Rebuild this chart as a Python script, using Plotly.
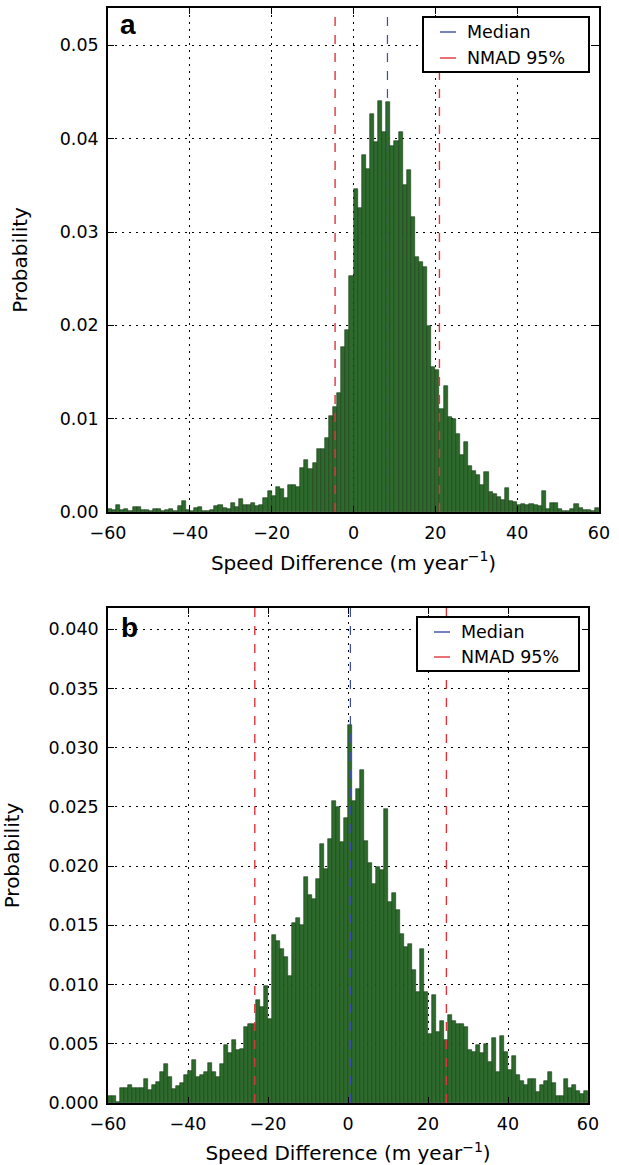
import plotly.graph_objects as go

# ---------------- data ----------------
bin_left_edges = list(range(-60, 60))   # histogram bins of width 1 (m/yr)
bin_width = 1.0

prob_a = [
    0.0003, 0.0002, 0.0007, 0.0002, 0.0003, 0.0001, 0.0005, 0.0005, 0.0002, 0.0002,
    0.0001, 0.0003, 0.0003, 0.0001, 0.0002, 0.0003, 0.0001, 0.0006, 0.0012, 0.0002,
    0.0001, 0.0004, 0.0005, 0.0001, 0.0001, 0.0002, 0.0006, 0.0008, 0.0004, 0.0003,
    0.0010, 0.0005, 0.0014, 0.0008, 0.0008, 0.0010, 0.0006, 0.0008, 0.0015, 0.0023,
    0.0017, 0.0027, 0.0025, 0.0015, 0.0029, 0.0029, 0.0027, 0.0047, 0.0056, 0.0046,
    0.0053, 0.0068, 0.0067, 0.0079, 0.0103, 0.0112, 0.0127, 0.0177, 0.0195, 0.0253,
    0.0346, 0.0326, 0.0383, 0.0367, 0.0426, 0.0396, 0.0440, 0.0407, 0.0439, 0.0392,
    0.0398, 0.0407, 0.0350, 0.0366, 0.0316, 0.0273, 0.0268, 0.0263, 0.0199, 0.0155,
    0.0152, 0.0110, 0.0135, 0.0102, 0.0100, 0.0084, 0.0061, 0.0075, 0.0049, 0.0044,
    0.0040, 0.0029, 0.0043, 0.0021, 0.0019, 0.0016, 0.0013, 0.0026, 0.0012, 0.0011,
    0.0008, 0.0009, 0.0008, 0.0009, 0.0008, 0.0006, 0.0023, 0.0003, 0.0010, 0.0010,
    0.0003, 0.0001, 0.0001, 0.0003, 0.0009, 0.0004, 0.0002, 0.0002, 0.0001, 0.0004,
]

prob_b = [
    0.0006, 0.0006, 0.0001, 0.0013, 0.0013, 0.0015, 0.0013, 0.0013, 0.0013, 0.0020,
    0.0011, 0.0015, 0.0018, 0.0026, 0.0033, 0.0022, 0.0012, 0.0014, 0.0017, 0.0024,
    0.0027, 0.0036, 0.0022, 0.0024, 0.0026, 0.0034, 0.0026, 0.0022, 0.0033, 0.0049,
    0.0042, 0.0053, 0.0045, 0.0046, 0.0064, 0.0067, 0.0067, 0.0087, 0.0081, 0.0099,
    0.0071, 0.0142, 0.0137, 0.0130, 0.0123, 0.0107, 0.0152, 0.0156, 0.0150, 0.0191,
    0.0176, 0.0172, 0.0189, 0.0219, 0.0198, 0.0223, 0.0255, 0.0250, 0.0220, 0.0241,
    0.0319, 0.0255, 0.0265, 0.0281, 0.0221, 0.0203, 0.0185, 0.0199, 0.0197, 0.0248,
    0.0170, 0.0177, 0.0163, 0.0143, 0.0132, 0.0134, 0.0112, 0.0094, 0.0130, 0.0094,
    0.0058, 0.0091, 0.0060, 0.0069, 0.0053, 0.0074, 0.0069, 0.0067, 0.0067, 0.0064,
    0.0045, 0.0043, 0.0049, 0.0042, 0.0050, 0.0035, 0.0055, 0.0026, 0.0057, 0.0043,
    0.0028, 0.0040, 0.0024, 0.0019, 0.0015, 0.0020, 0.0020, 0.0009, 0.0015, 0.0019,
    0.0026, 0.0017, 0.0006, 0.0006, 0.0020, 0.0013, 0.0015, 0.0010, 0.0008, 0.0010,
]

median_a = 8.3
nmad_a = [-4.5, 21.0]
median_b = 0.6
nmad_b = [-23.3, 24.6]

x_ticks = [-60, -40, -20, 0, 20, 40, 60]
y_ticks_a = [0.00, 0.01, 0.02, 0.03, 0.04, 0.05]
y_ticks_b = [0.000, 0.005, 0.010, 0.015, 0.020, 0.025, 0.030, 0.035, 0.040]

legend_labels = ["Median", "NMAD 95%"]
panel_labels = ["a", "b"]
x_title = "Speed Difference (m year<sup>\u22121</sup>)"
y_title = "Probability"

# ---------------- style ----------------
W, H = 619, 1165
FONT = "DejaVu Sans"
FS = 17.5
FS_TITLE = 20
BAR_FILL = "#2e6a2c"
BAR_EDGE = "#1a3a18"
BLUE = "#3a4ea6"
RED = "#e0353c"


def px(x):
    return x / W


def py(y):
    return 1 - y / H


fig = go.Figure()

for probs, xa, ya in [(prob_a, "x", "y"), (prob_b, "x2", "y2")]:
    fig.add_trace(go.Bar(
        x=bin_left_edges, y=probs, width=bin_width, offset=0,
        marker=dict(color=BAR_FILL, line=dict(color=BAR_EDGE, width=0.6)),
        xaxis=xa, yaxis=ya, showlegend=False, hoverinfo="x+y",
    ))

# median / NMAD lines
for xa, yd, med, nm in [("x", "y domain", median_a, nmad_a), ("x2", "y2 domain", median_b, nmad_b)]:
    fig.add_shape(type="line", xref=xa, yref=yd, x0=med, x1=med, y0=0, y1=1,
                  line=dict(color=BLUE, width=1.2, dash="9px,9px"), layer="above")
    for v in nm:
        fig.add_shape(type="line", xref=xa, yref=yd, x0=v, x1=v, y0=0, y1=1,
                      line=dict(color=RED, width=1.4, dash="9px,9px"), layer="above")

axis_common = dict(
    showline=True, linecolor="black", linewidth=1.6, mirror="ticks",
    ticks="inside", ticklen=6, tickwidth=1.2, tickcolor="black",
    showgrid=True, gridcolor="black", gridwidth=1, griddash="2px,5px",
    zeroline=False, automargin=False,
    tickfont=dict(family=FONT, size=FS, color="black"),
)

# pixel geometry of plot areas
A = dict(l=108, r=599, t=8, b=512)
B = dict(l=108, r=588, t=608, b=1103)

xt = dict(text=x_title, standoff=14, font=dict(family=FONT, size=FS_TITLE))
yt = dict(text=y_title, standoff=27, font=dict(family=FONT, size=FS_TITLE))

fig.update_layout(
    width=W, height=H,
    margin=dict(l=0, r=0, t=0, b=0),
    paper_bgcolor="white", plot_bgcolor="white",
    bargap=0, showlegend=False,
    font=dict(family=FONT, size=FS, color="black"),
    xaxis=dict(axis_common, domain=[px(A["l"]), px(A["r"])], anchor="y",
               range=[-60, 60], tickvals=x_ticks, ticklabelstandoff=4, title=xt),
    yaxis=dict(axis_common, domain=[py(A["b"]), py(A["t"])], anchor="x",
               range=[0, 0.054], tickvals=y_ticks_a, tickformat=".2f",
               ticklabelstandoff=4, title=yt),
    xaxis2=dict(axis_common, domain=[px(B["l"]), px(B["r"])], anchor="y2",
                range=[-60, 60], tickvals=x_ticks, ticklabelstandoff=4, title=xt),
    yaxis2=dict(axis_common, domain=[py(B["b"]), py(B["t"])], anchor="x2",
                range=[0, 0.0418], tickvals=y_ticks_b, tickformat=".3f",
                ticklabelstandoff=4, title=yt),
)

# panel letters
for lab, (xp, yp) in zip(panel_labels, [(128, 25), (129, 627)]):
    fig.add_annotation(text="<b>%s</b>" % lab, xref="paper", yref="paper",
                       x=px(xp), y=py(yp), xanchor="center", yanchor="middle",
                       showarrow=False, font=dict(family="Liberation Sans", size=28, color="black"))

# manual legends (box, short line samples, labels)
for box, rows in [((423, 17, 589, 72), (32, 58)), ((417, 617, 579, 671), (632, 657))]:
    x0, y0, x1, y1 = box
    fig.add_shape(type="rect", xref="paper", yref="paper",
                  x0=px(x0), x1=px(x1), y0=py(y1), y1=py(y0),
                  line=dict(color="black", width=2), fillcolor="white", layer="above")
    for lab, col, yy in zip(legend_labels, [BLUE, RED], rows):
        fig.add_shape(type="line", xref="paper", yref="paper",
                      x0=px(x0 + 17), x1=px(x0 + 33), y0=py(yy), y1=py(yy),
                      line=dict(color=col, width=1.4), layer="above")
        fig.add_annotation(text=lab, xref="paper", yref="paper",
                           x=px(x0 + 42), y=py(yy), xanchor="left", yanchor="middle",
                           showarrow=False, font=dict(family=FONT, size=FS, color="black"))

fig.write_html("out.html", config={"displayModeBar": False},
               post_script="document.body.style.margin='0';")
